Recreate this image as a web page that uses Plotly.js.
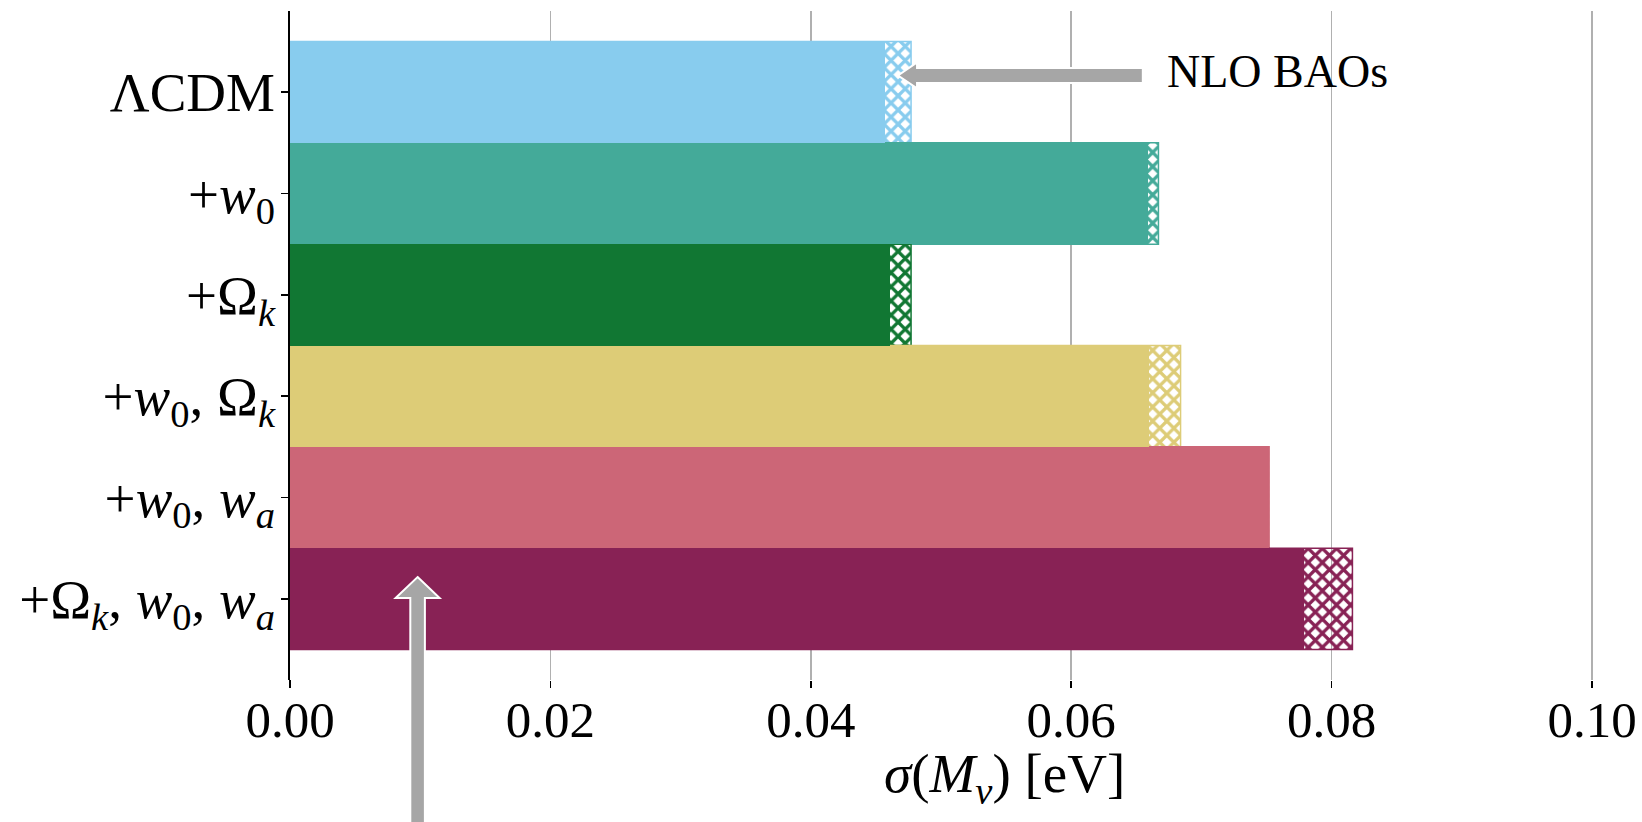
<!DOCTYPE html>
<html>
<head>
<meta charset="utf-8">
<script src="https://cdn.plot.ly/plotly-3.0.1.min.js"></script>
<style>
  html, body { margin: 0; padding: 0; background: #ffffff; }
  #chart { width: 1642px; height: 822px; }
</style>
</head>
<body>
<div id="chart"></div>
<script>
// Model extensions, top to bottom
const categories = [
  'ΛCDM',
  '+<i>w</i><sub>0</sub>',
  '+Ω<sub><i>k</i></sub>',
  '+<i>w</i><sub>0</sub>, Ω<sub><i>k</i></sub>',
  '+<i>w</i><sub>0</sub>, <i>w</i><sub><i>a</i></sub>',
  '+Ω<sub><i>k</i></sub>, <i>w</i><sub>0</sub>, <i>w</i><sub><i>a</i></sub>'
];
// sigma(M_nu) in eV: solid part and full (hatched) extent
const sigmaBase = [0.0457, 0.0659, 0.0461, 0.0660, 0.0752, 0.0779];
const sigmaFull = [0.0477, 0.0667, 0.0477, 0.0684, 0.0752, 0.0816];
const barColors = ['#88CCEE', '#44AA99', '#117733', '#DDCC77', '#CC6677', '#882255'];
const xTicks = [0, 0.02, 0.04, 0.06, 0.08, 0.10];

const W = 1642, H = 822;
const margin = {l: 290, r: 0, t: 11, b: 142};
const plotH = H - margin.t - margin.b;
const plotW = W - margin.l - margin.r;
const xRange = [0, 0.10384];
const yRange = [5.8, -0.8];
const idx = categories.map((_, i) => i);

const serif = 'Liberation Serif, Times New Roman, serif';

// data -> paper helpers for the decorations
const px = v => (v - xRange[0]) / (xRange[1] - xRange[0]);
const py = v => (yRange[0] - v) / (yRange[0] - yRange[1]);
const pathOf = pts => 'M' + pts.map(p => px(p[0]).toFixed(5) + ',' + py(p[1]).toFixed(5)).join(' L') + ' Z';

// horizontal arrow pointing at the hatched part of the first bar
const tipX = (sigmaBase[0] + sigmaFull[0]) / 2;
const tipY = -0.164;
const headLen = 0.00146, headHalf = 0.128, shaftHalf = 0.074, shaftEnd = 0.0655;
const arrowTop = pathOf([
  [tipX, tipY],
  [tipX + headLen, tipY - headHalf],
  [tipX + headLen, tipY - shaftHalf],
  [shaftEnd, tipY - shaftHalf],
  [shaftEnd, tipY + shaftHalf],
  [tipX + headLen, tipY + shaftHalf],
  [tipX + headLen, tipY + headHalf]
]);

// vertical arrow pointing up into the last bar
const upX = 0.0098, upY = 4.784;
const upHeadLen = 0.207, upHeadHalf = 0.00169, upShaftHalf = 0.00056, upEnd = 7.4;
const arrowUp = pathOf([
  [upX, upY],
  [upX + upHeadHalf, upY + upHeadLen],
  [upX + upShaftHalf, upY + upHeadLen],
  [upX + upShaftHalf, upEnd],
  [upX - upShaftHalf, upEnd],
  [upX - upShaftHalf, upY + upHeadLen],
  [upX - upHeadHalf, upY + upHeadLen]
]);

const traces = [
  {
    type: 'bar', orientation: 'h',
    x: sigmaFull, y: idx,
    width: 1,
    marker: {
      color: barColors,
      line: {color: barColors, width: 1.5},
      pattern: {shape: 'x', fillmode: 'replace', fgcolor: barColors, size: 10, solidity: 0.55}
    },
    hoverinfo: 'skip', showlegend: false
  },
  {
    type: 'bar', orientation: 'h',
    x: sigmaBase, y: idx,
    width: 1,
    marker: {color: barColors, line: {width: 0}},
    hoverinfo: 'skip', showlegend: false
  }
];

const layout = {
  width: W, height: H,
  margin: margin,
  paper_bgcolor: '#ffffff', plot_bgcolor: '#ffffff',
  barmode: 'overlay', bargap: 0,
  font: {family: serif, color: '#000000', size: 50},
  xaxis: {
    range: xRange, autorange: false,
    tickvals: xTicks, tickformat: '.2f',
    ticks: 'outside', ticklen: 7, tickwidth: 1.5, tickcolor: '#000000',
    ticklabelstandoff: -12,
    showgrid: true, gridcolor: '#b0b0b0', gridwidth: 1.5,
    showline: false, zeroline: false,
    tickfont: {family: serif, size: 51, color: '#000000'}
  },
  yaxis: {
    type: 'linear', range: yRange, autorange: false,
    tickvals: idx, ticktext: categories,
    ticks: 'outside', ticklen: 7, tickwidth: 1.5, tickcolor: '#000000',
    ticklabelstandoff: -5,
    showgrid: false, zeroline: false,
    showline: true, linecolor: '#000000', linewidth: 2,
    tickfont: {family: serif, size: 55, color: '#000000'}
  },
  annotations: [
    {
      xref: 'paper', yref: 'paper',
      x: (1004 - margin.l) / plotW,
      y: -98 / plotH,
      xanchor: 'center', yanchor: 'middle',
      text: '<i>σ</i>(<i>M</i><sub><i>ν</i></sub>) [eV]',
      showarrow: false,
      font: {family: serif, size: 55, color: '#000000'}
    },
    {
      xref: 'paper', yref: 'paper',
      x: px(0.0672), y: py(-0.200),
      xanchor: 'left', yanchor: 'middle',
      text: 'NLO BAOs',
      showarrow: false,
      font: {family: serif, size: 46, color: '#000000'}
    }
  ],
  shapes: [
    // left spine runs a few pixels past the plotting area
    {type: 'line', xref: 'paper', yref: 'paper', x0: 0, x1: 0, y0: 0, y1: -7 / plotH, line: {color: '#000000', width: 2}},
    {type: 'path', xref: 'paper', yref: 'paper', path: arrowTop, fillcolor: '#a6a6a6', line: {color: '#ffffff', width: 2}, layer: 'above'},
    {type: 'path', xref: 'paper', yref: 'paper', path: arrowUp, fillcolor: '#a6a6a6', line: {color: '#ffffff', width: 2}, layer: 'above'}
  ]
};

Plotly.newPlot('chart', traces, layout, {displayModeBar: false, staticPlot: true});
</script>
</body>
</html>
